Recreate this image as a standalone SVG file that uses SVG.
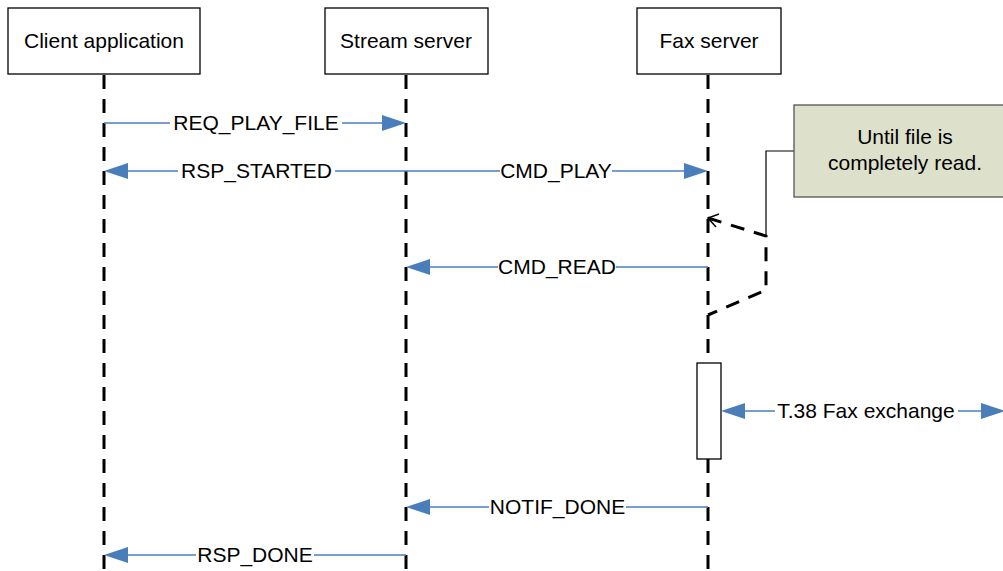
<svg xmlns="http://www.w3.org/2000/svg" width="1003" height="571" viewBox="0 0 1003 571">
<defs>
<style>
text{font-family:"Liberation Sans",Arial,sans-serif;font-size:21px;fill:#000;text-anchor:middle}
.box{fill:#fff;stroke:#000;stroke-width:1.3}
.life{stroke:#000;stroke-width:3;stroke-dasharray:14 10;fill:none}
.msg{stroke:#4a7ebb;stroke-width:1.5;fill:none}
.loop{stroke:#000;stroke-width:3;stroke-dasharray:14 10;fill:none}
.head{fill:#4a7ebb}
</style>
</defs>
<rect width="1003" height="571" fill="#fff"/>
<g id="lifelines">
<line class="life" x1="104" y1="75" x2="104" y2="571"/>
<line class="life" x1="406" y1="75" x2="406" y2="571"/>
<line class="life" x1="708" y1="75" x2="708" y2="571"/>
</g>
<g id="client"><rect class="box" x="8" y="8" width="192" height="66"/><text x="104" y="48">Client application</text></g>
<g id="stream"><rect class="box" x="325" y="8" width="163" height="66"/><text x="406" y="48">Stream server</text></g>
<g id="fax"><rect class="box" x="637" y="8" width="144" height="66"/><text x="709" y="48">Fax server</text></g>
<g id="activation"><rect class="box" x="697" y="363" width="24" height="96"/></g>
<g id="note">
<polyline points="794,151 766,151 766,236" fill="none" stroke="#000" stroke-width="1.2"/>
<rect x="794" y="105" width="222" height="92" fill="#dde0cb" stroke="#555" stroke-width="1.3"/>
<text x="905" y="144">Until file is</text>
<text x="905" y="170">completely read.</text>
</g>
<g id="connectors">
<line class="msg" x1="104" y1="123" x2="170" y2="123"/>
<line class="msg" x1="342" y1="123" x2="384" y2="123"/>
<polygon class="head" points="406,123 382,115 382,131"/>
<text x="256" y="130">REQ_PLAY_FILE</text>
<line class="msg" x1="126" y1="171" x2="178" y2="171"/>
<line class="msg" x1="335" y1="171" x2="500" y2="171"/>
<polygon class="head" points="104,171 128,163 128,179"/>
<text x="256.5" y="178">RSP_STARTED</text>
<line class="msg" x1="612" y1="171" x2="686" y2="171"/>
<polygon class="head" points="708,171 684,163 684,179"/>
<text x="556" y="178">CMD_PLAY</text>
<polyline class="loop" points="708,218 766,236 766,290 708,315"/>
<polyline points="719,214 708,218 716,227" fill="none" stroke="#000" stroke-width="1.5"/>
<line class="msg" x1="428" y1="267" x2="498" y2="267"/>
<line class="msg" x1="616" y1="267" x2="708" y2="267"/>
<polygon class="head" points="406,267 430,259 430,275"/>
<text x="557" y="274">CMD_READ</text>
<line class="msg" x1="743" y1="411" x2="775" y2="411"/>
<line class="msg" x1="958" y1="411" x2="982" y2="411"/>
<polygon class="head" points="721,411 745,403 745,419"/>
<polygon class="head" points="1005,411 981,403 981,419"/>
<text x="866" y="418">T.38 Fax exchange</text>
<line class="msg" x1="428" y1="507" x2="489" y2="507"/>
<line class="msg" x1="626" y1="507" x2="708" y2="507"/>
<polygon class="head" points="406,507 430,499 430,515"/>
<text x="557.5" y="514">NOTIF_DONE</text>
<line class="msg" x1="126" y1="555" x2="196" y2="555"/>
<line class="msg" x1="314" y1="555" x2="406" y2="555"/>
<polygon class="head" points="104,555 128,547 128,563"/>
<text x="255" y="562">RSP_DONE</text>
</g>
</svg>
